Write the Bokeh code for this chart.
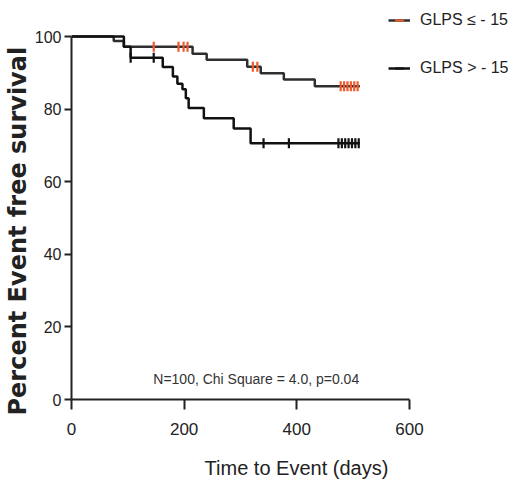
import numpy as np
from bokeh.plotting import figure
from bokeh.models import Range1d, Legend, LegendItem, FixedTicker, Label, Title
from bokeh.embed import file_html
from bokeh.resources import INLINE

# ---- data ----
# GLPS <= -15 : step times (days) and percent event-free survival
low_time = [0, 75, 93, 215, 240, 312, 336, 377, 432, 512]
low_surv = [100, 98.8, 97.2, 95.3, 93.6, 91.7, 89.9, 88.2, 86.3, 86.3]
low_cens_time = [146, 190, 199, 206, 322, 330, 478, 484, 490, 496, 502, 508]
low_cens_surv = [97.2, 97.2, 97.2, 97.2, 91.7, 91.7, 86.3, 86.3, 86.3, 86.3, 86.3, 86.3]

# GLPS > -15
high_time = [0, 93, 105, 162, 180, 188, 197, 203, 208, 235, 288, 318, 512]
high_surv = [100, 97.2, 94.2, 91.6, 89.0, 87.0, 85.5, 83.0, 80.3, 77.5, 74.7, 70.6, 70.6]
high_cens_time = [105, 146, 341, 386, 474, 480, 486, 492, 498, 504, 510]
high_cens_surv = [94.2, 94.2, 70.6, 70.6, 70.6, 70.6, 70.6, 70.6, 70.6, 70.6, 70.6]

x_ticks = [0, 200, 400, 600]
y_ticks = [0, 20, 40, 60, 80, 100]
legend_labels = ["GLPS \u2264 - 15", "GLPS > - 15"]
x_title = "Time to Event (days)"
y_title = "Percent Event free survival"
stats_text = "N=100, Chi Square = 4.0, p=0.04"

FONT = "Liberation Sans"
DARK = "#222222"

p = figure(width=521, height=488, x_range=Range1d(0, 799), y_range=Range1d(0, 109.4),
           output_backend="svg", toolbar_location=None,
           min_border_left=71, min_border_right=0, min_border_top=2, min_border_bottom=89)
p.outline_line_color = None
p.xgrid.visible = False
p.ygrid.visible = False
p.background_fill_color = "white"
p.border_fill_color = "white"

# curves
low_line = p.step(low_time, low_surv, mode="after", line_color="#2e2e2e", line_width=2.5)
low_cens = p.scatter(low_cens_time, low_cens_surv, marker="dash", angle=np.pi / 2, size=10,
                     line_color="#ee5a2c", line_width=2.2)
high_line = p.step(high_time, high_surv, mode="after", line_color="#111111", line_width=2.5)
high_cens = p.scatter(high_cens_time, high_cens_surv, marker="dash", angle=np.pi / 2, size=10,
                      line_color="#111111", line_width=2.2)

# axes
for ax in (p.xaxis[0], p.yaxis[0]):
    ax.axis_line_width = 2
    ax.axis_line_color = DARK
    ax.major_tick_line_width = 2
    ax.major_tick_line_color = DARK
    ax.major_tick_in = 0
    ax.minor_tick_line_color = None
    ax.major_label_text_font = FONT
    ax.major_label_text_color = DARK

p.xaxis.bounds = (0, 600)
p.yaxis.bounds = (0, 100)
p.xaxis.ticker = FixedTicker(ticks=x_ticks)
p.yaxis.ticker = FixedTicker(ticks=y_ticks)
p.xaxis.major_tick_out = 10
p.yaxis.major_tick_out = 7
p.xaxis.major_label_text_font_size = "17px"
p.yaxis.major_label_text_font_size = "16px"
p.xaxis.major_label_standoff = 13
p.yaxis.major_label_standoff = 3

p.xaxis.axis_label = x_title
p.xaxis.axis_label_text_font = FONT
p.xaxis.axis_label_text_font_size = "20px"
p.xaxis.axis_label_text_font_style = "normal"
p.xaxis.axis_label_text_color = DARK
p.xaxis.axis_label_standoff = 19

# y title as a left-side title panel (rotated), starting a little below the frame bottom
p.add_layout(Title(text=y_title, align="left", offset=-16, standoff=0,
                   text_font="DejaVu Sans", text_font_size="24px", text_font_style="bold",
                   text_color=DARK), "left")

# stats annotation
p.add_layout(Label(x=328, y=3.5, text=stats_text, text_font=FONT, text_font_size="14px",
                   text_color="#333333", text_align="center", text_baseline="bottom"))

# legend
legend = Legend(items=[LegendItem(label=legend_labels[0], renderers=[low_line, low_cens]),
                       LegendItem(label=legend_labels[1], renderers=[high_line, high_cens])],
                location=(317, 320))
legend.label_text_font = FONT
legend.label_text_font_size = "16px"
legend.label_text_color = DARK
legend.label_height = 22
legend.glyph_height = 22
legend.glyph_width = 22
legend.spacing = 26
legend.label_standoff = 10
legend.padding = 0
legend.margin = 0
legend.border_line_color = None
legend.background_fill_alpha = 0
p.add_layout(legend)

open("out.html", "w").write(file_html(p, INLINE))
